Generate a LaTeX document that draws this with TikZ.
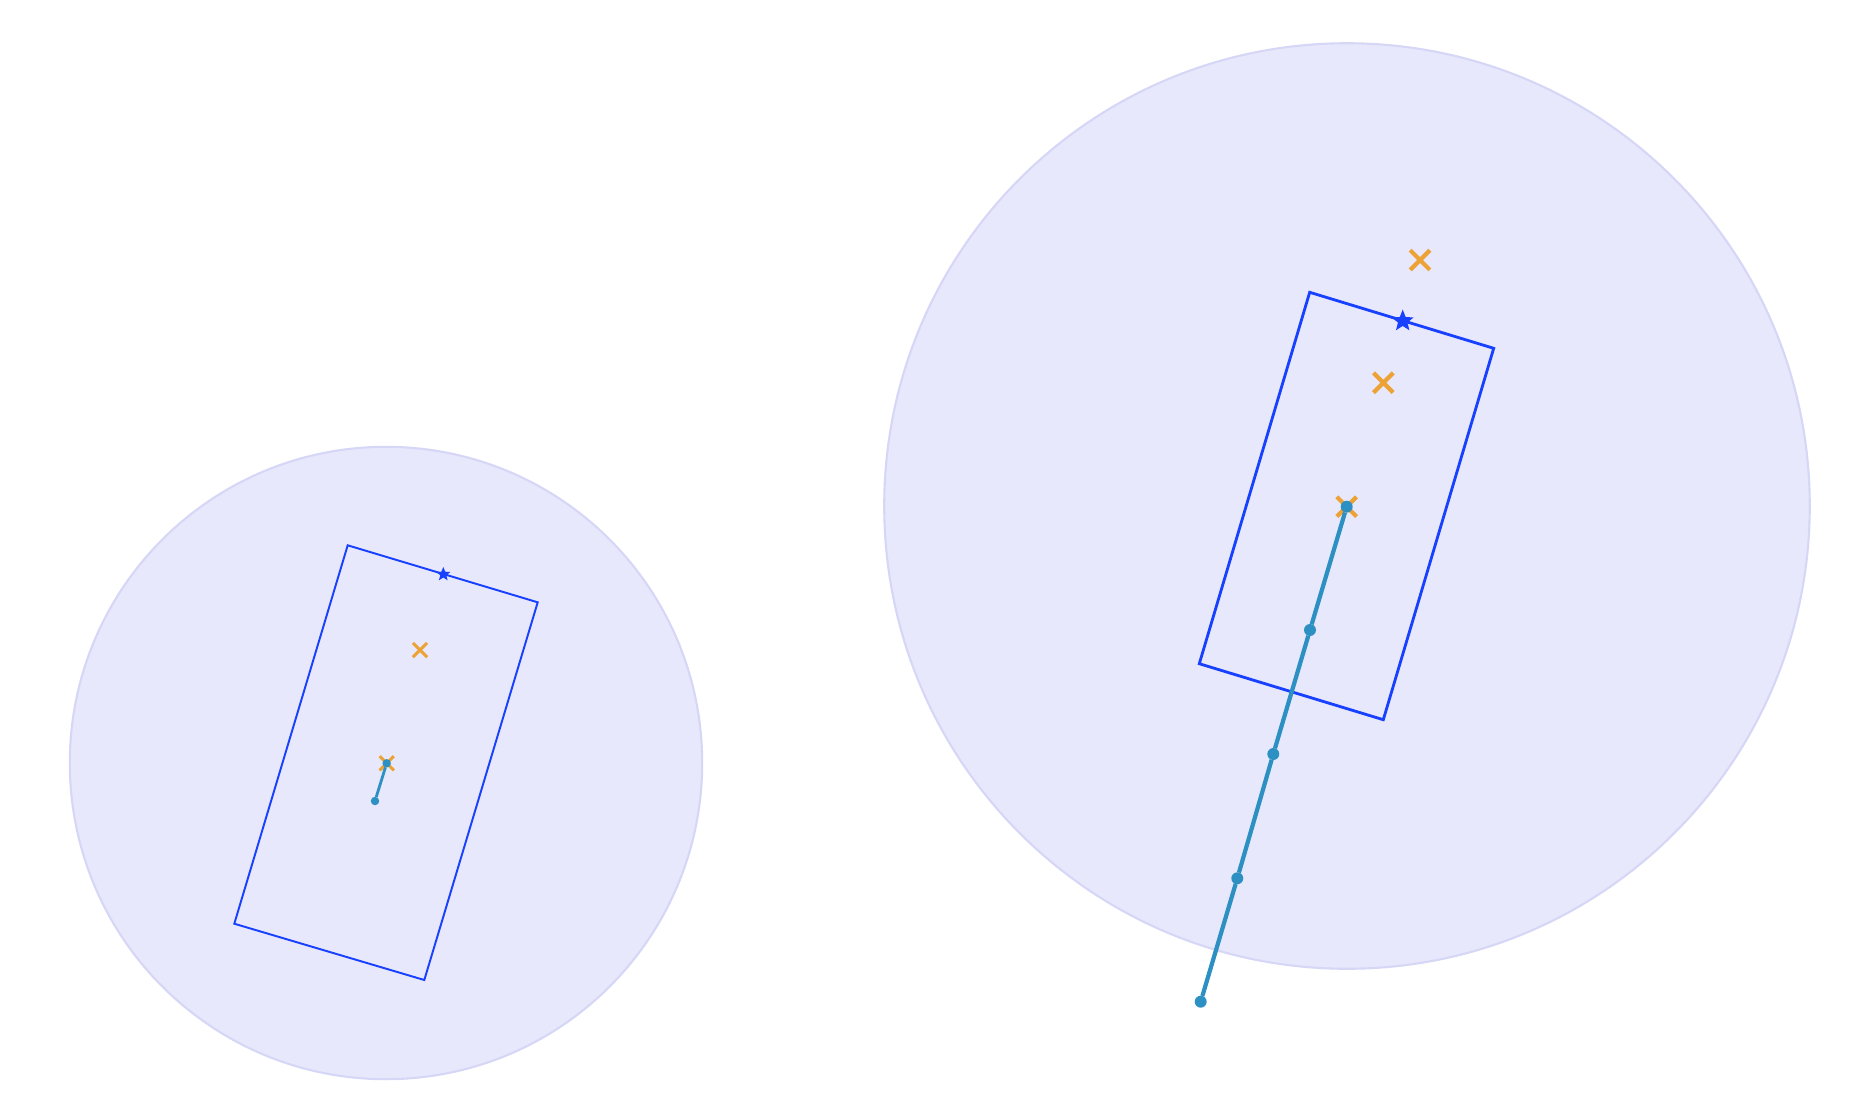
\documentclass[tikz,border=0pt]{standalone}
\usetikzlibrary{shapes.geometric, shapes.misc}
\definecolor{colorZona}{RGB}{232,232,252}
\definecolor{colorBordeZona}{RGB}{214,214,246}
\definecolor{colorCaja}{RGB}{24,64,255}
\definecolor{colorEstimacion}{RGB}{236,162,52}
\definecolor{colorTrayecto}{RGB}{44,144,194}

\begin{document}
\begin{tikzpicture}[
	x=0.01cm, y=-0.01cm,
	zona/.style={fill=colorZona, draw=colorBordeZona, line width=0.6pt},
	caja/.style={draw=colorCaja, line width=0.8pt, line join=miter},
	objetivo/.style={star, star points=5, star point ratio=2.3, fill=colorCaja,
	                 inner sep=0pt, minimum size=6.5pt},
	estimacion/.style={cross out, draw=colorEstimacion, line width=1.2pt,
	                   inner sep=0pt, minimum size=4.4pt},
	salto/.style={circle, fill=colorTrayecto, inner sep=0pt, outer sep=0pt, minimum size=3.4pt},
	trayecto/.style={draw=colorTrayecto, line width=1.2pt},
	]

\useasboundingbox (0,0) rectangle (1862,1108);

% Zonas de cobertura
\node[zona, circle, minimum size=6.32cm, inner sep=0pt] (zonaA) at (386,763) {};
\node[zona, circle, minimum size=9.25cm, inner sep=0pt] (zonaB) at (1347,506) {};

% Primer caso
\coordinate (a1) at (347.7,545.3);
\coordinate (a2) at (537.7,602.3);
\coordinate (a3) at (424.3,980.0);
\coordinate (a4) at (234.3,923.7);
\draw[caja, line width=0.55pt] (a1) -- (a2) -- (a3) -- (a4) -- cycle;

\node[estimacion, minimum size=3.2pt, line width=0.85pt] (ea1) at (420,650) {};
\node[estimacion, minimum size=3.2pt, line width=0.85pt] (ea2) at (386.7,763.3) {};
\node[salto, minimum size=2.4pt] (sa1) at (386.7,763.3) {};
\node[salto, minimum size=2.4pt] (sa2) at (375,801) {};
\draw[trayecto, line width=0.8pt] (sa1) -- (sa2);
\node[objetivo, minimum size=4.2pt] (oa) at (443.3,574.3) {};

% Segundo caso
\coordinate (b1) at (1309.7,292.3);
\coordinate (b2) at (1493.7,348.3);
\coordinate (b3) at (1383.3,719.7);
\coordinate (b4) at (1199.3,663.7);
\draw[caja] (b1) -- (b2) -- (b3) -- (b4) -- cycle;

\node[estimacion] (eb1) at (1420,260) {};
\node[estimacion] (eb2) at (1383.3,382.7) {};
\node[estimacion] (eb3) at (1346.7,506.7) {};

\node[salto] (sb1) at (1346.7,506.7) {};
\node[salto] (sb2) at (1310,630) {};
\node[salto] (sb3) at (1273.3,754) {};
\node[salto] (sb4) at (1237.3,878.3) {};
\node[salto] (sb5) at (1200.7,1001.7) {};
\draw[trayecto] (sb1) -- (sb2) -- (sb3) -- (sb4) -- (sb5);

\node[objetivo] (ob) at (1402.7,321) {};

\end{tikzpicture}
\end{document}
